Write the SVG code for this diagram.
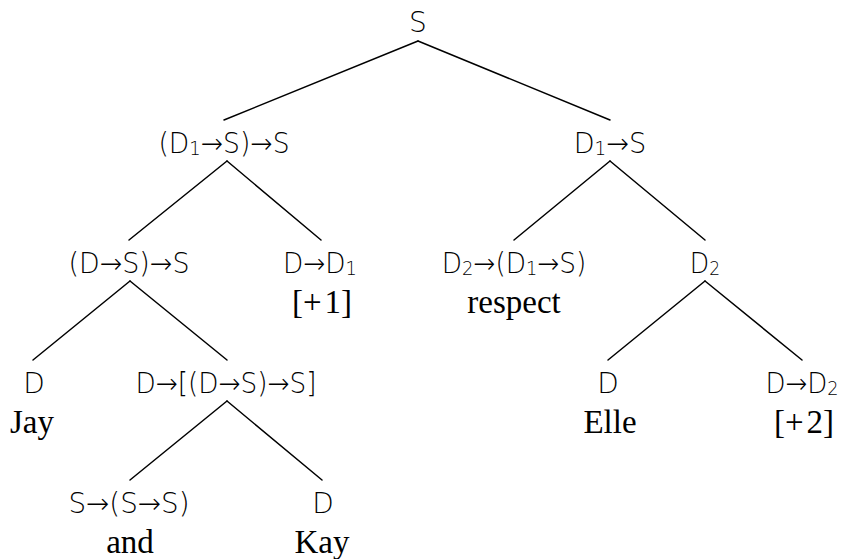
<svg xmlns="http://www.w3.org/2000/svg" width="841" height="559" viewBox="0 0 841 559">
<style>
.t{font-family:"DejaVu Sans",sans-serif;font-weight:200;font-size:28px;fill:#000;text-anchor:middle}
.w{font-family:"Liberation Serif",serif;font-size:33px;fill:#000;text-anchor:middle}
.s{font-size:19px}
.e{stroke:#000;stroke-width:1.5;fill:none;stroke-linecap:round}
</style>
<rect width="841" height="559" fill="#fff"/>
<g id="connectors">
<line class="e" x1="418" y1="41" x2="224" y2="120"/>
<line class="e" x1="418" y1="41" x2="610" y2="120"/>
<line class="e" x1="227" y1="161" x2="129" y2="240"/>
<line class="e" x1="227" y1="161" x2="321" y2="240"/>
<line class="e" x1="610" y1="161" x2="514" y2="240"/>
<line class="e" x1="610" y1="161" x2="705" y2="240"/>
<line class="e" x1="130" y1="281" x2="33" y2="360"/>
<line class="e" x1="130" y1="281" x2="227" y2="360"/>
<line class="e" x1="705" y1="281" x2="608" y2="360"/>
<line class="e" x1="705" y1="281" x2="802" y2="360"/>
<line class="e" x1="227" y1="401" x2="130" y2="480"/>
<line class="e" x1="227" y1="401" x2="322" y2="480"/>
</g>
<g id="n-root"><text class="t" x="418" y="32">S</text></g>
<g id="n-left2"><text class="t" transform="translate(224 153) scale(0.95 1)">(D<tspan class="s" dy="2">1</tspan><tspan dy="-2">→S)→S</tspan></text></g>
<g id="n-right2"><text class="t" transform="translate(610 153) scale(0.97 1)">D<tspan class="s" dy="2">1</tspan><tspan dy="-2">→S</tspan></text></g>
<g id="n-dss"><text class="t" x="129" y="273" textLength="121" lengthAdjust="spacingAndGlyphs">(D→S)→S</text></g>
<g id="n-plus1"><text class="t" transform="translate(320 273) scale(0.94 1)">D→D<tspan class="s" dy="2">1</tspan></text><text class="w" x="322" y="313">[+<tspan dx="3">1]</tspan></text></g>
<g id="n-respect"><text class="t" transform="translate(514 273) scale(0.94 1)">D<tspan class="s" dy="2">2</tspan><tspan dy="-2">→(D</tspan><tspan class="s" dy="2">1</tspan><tspan dy="-2">→S)</tspan></text><text class="w" x="514" y="313">respect</text></g>
<g id="n-d2"><text class="t" transform="translate(705 273) scale(0.9 1)">D<tspan class="s" dy="2">2</tspan></text></g>
<g id="n-jay"><text class="t" x="34" y="393">D</text><text class="w" x="32" y="433">Jay</text></g>
<g id="n-dds"><text class="t" x="226" y="393" textLength="181" lengthAdjust="spacingAndGlyphs">D→[(D→S)→S]</text></g>
<g id="n-elle"><text class="t" x="608" y="393">D</text><text class="w" x="610" y="433">Elle</text></g>
<g id="n-plus2"><text class="t" transform="translate(802 393) scale(0.93 1)">D→D<tspan class="s" dy="2">2</tspan></text><text class="w" x="804" y="433">[+<tspan dx="3">2]</tspan></text></g>
<g id="n-and"><text class="t" x="129" y="513" textLength="121" lengthAdjust="spacingAndGlyphs">S→(S→S)</text><text class="w" x="130" y="553">and</text></g>
<g id="n-kay"><text class="t" x="323" y="513">D</text><text class="w" x="322" y="553">Kay</text></g>
</svg>
